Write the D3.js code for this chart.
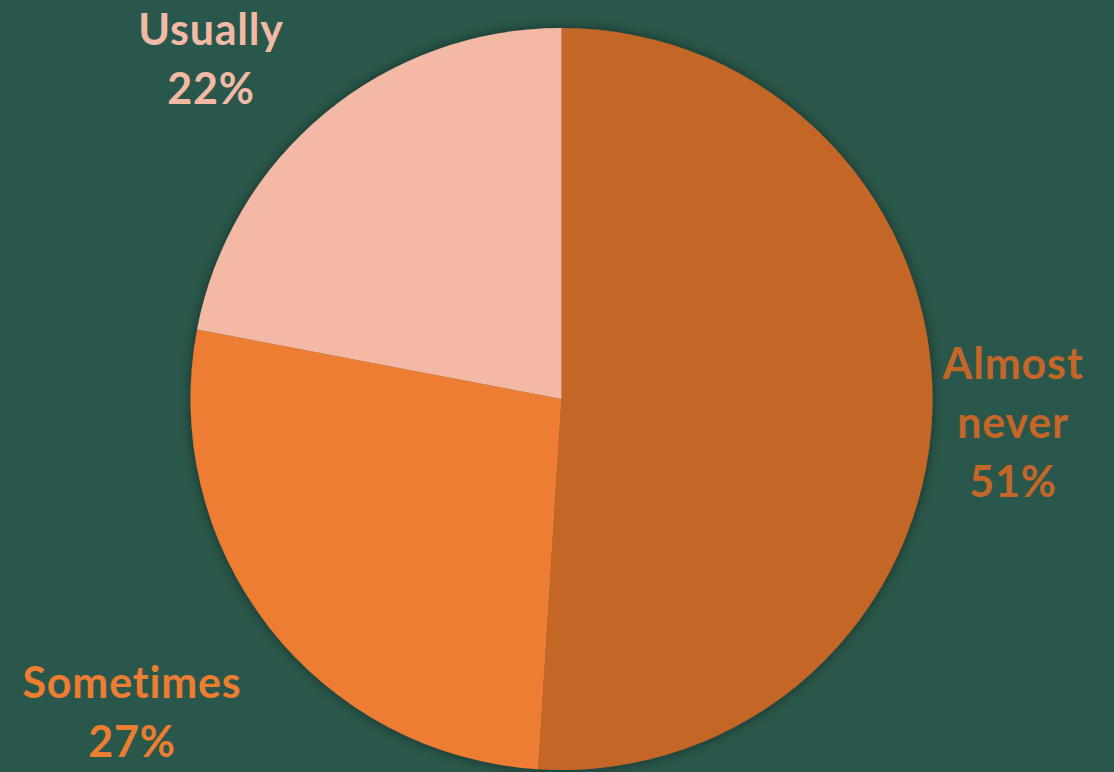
<!DOCTYPE html>
<html>
<head>
<meta charset="utf-8">
<script src="https://cdn.jsdelivr.net/npm/d3@7"></script>
<style>
  html, body { margin: 0; padding: 0; background: #2a574b; }
  svg { display: block; }
  text { font-family: Lato, "Open Sans", sans-serif; font-weight: 700; font-variant-ligatures: none; }
</style>
</head>
<body>
<svg id="chart" width="1114" height="772"></svg>
<script>
const categories = ["Almost never", "Sometimes", "Usually"];
const values = [51, 27, 22];
const colors = ["#c46628", "#ed7d31", "#f4b9a5"];
// label text lines per slice and where each label block sits
const labelLines = [["Almost", "never", "51%"], ["Sometimes", "27%"], ["Usually", "22%"]];
const labelPos = [[1013, 362], [132, 681], [211, 28]];

const W = 1114, H = 772;
const cx = 561.5, cy = 399, r = 371;
const svg = d3.select("#chart");

svg.append("rect").attr("width", W).attr("height", H).attr("fill", "#2a574b");

const defs = svg.append("defs");
const f = defs.append("filter").attr("id", "shadow")
  .attr("x", "-10%").attr("y", "-10%").attr("width", "120%").attr("height", "120%");
f.append("feDropShadow").attr("dx", 0).attr("dy", 0).attr("stdDeviation", 6)
  .attr("flood-color", "#000").attr("flood-opacity", 0.45);

const pie = d3.pie().sort(null).value(d => d)(values);
const arc = d3.arc().innerRadius(0).outerRadius(r);

const g = svg.append("g").attr("transform", `translate(${cx},${cy})`);
g.append("g").attr("filter", "url(#shadow)")
  .selectAll("path").data(pie).join("path")
  .attr("d", arc)
  .attr("fill", (d, i) => colors[i]);

const lineH = 59;
categories.forEach((c, i) => {
  const t = svg.append("text")
    .attr("x", labelPos[i][0]).attr("y", labelPos[i][1])
    .attr("text-anchor", "middle")
    .attr("dominant-baseline", "central")
    .attr("font-size", 43)
    .attr("letter-spacing", 0.8)
    .attr("fill", colors[i]);
  labelLines[i].forEach((s, k) => {
    t.append("tspan").attr("x", labelPos[i][0]).attr("dy", k === 0 ? 0 : lineH).text(s);
  });
});
</script>
</body>
</html>
